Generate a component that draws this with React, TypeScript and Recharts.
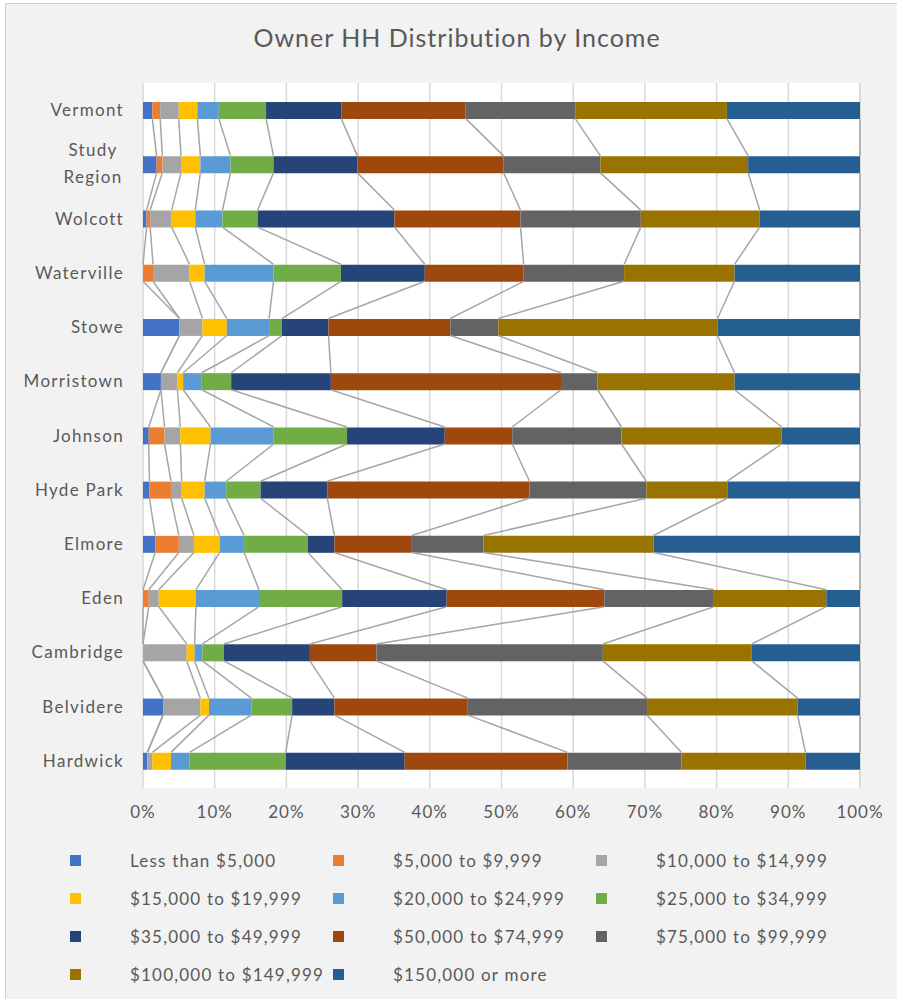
import React from "react";
import {
  ComposedChart,
  Bar,
  Line,
  XAxis,
  YAxis,
  CartesianGrid,
} from "recharts";

// categories, top to bottom
const towns = [
  "Vermont",
  "Study Region",
  "Wolcott",
  "Waterville",
  "Stowe",
  "Morristown",
  "Johnson",
  "Hyde Park",
  "Elmore",
  "Eden",
  "Cambridge",
  "Belvidere",
  "Hardwick",
];

const brackets = [
  "Less than $5,000",
  "$5,000 to $9,999",
  "$10,000 to $14,999",
  "$15,000 to $19,999",
  "$20,000 to $24,999",
  "$25,000 to $34,999",
  "$35,000 to $49,999",
  "$50,000 to $74,999",
  "$75,000 to $99,999",
  "$100,000 to $149,999",
  "$150,000 or more",
];

const colors = [
  "#4472C4",
  "#ED7D31",
  "#A5A5A5",
  "#FFC000",
  "#5B9BD5",
  "#70AD47",
  "#264478",
  "#9E480E",
  "#636363",
  "#997300",
  "#255E91",
];

// share of owner households per bracket (%), one row per town
const vermont = [1.3, 1.1, 2.6, 2.6, 3.0, 6.6, 10.5, 17.4, 15.3, 21.2, 18.6];
const studyRegion = [1.9, 0.8, 2.6, 2.7, 4.2, 6.0, 11.7, 20.4, 13.5, 20.6, 15.6];
const wolcott = [0.5, 0.5, 3.0, 3.3, 3.8, 4.9, 19.1, 17.6, 16.8, 16.6, 14.0];
const waterville = [0, 1.4, 5.1, 2.1, 9.6, 9.4, 11.7, 13.8, 14.0, 15.4, 17.5];
const stowe = [5.1, 0, 3.2, 3.4, 5.9, 1.8, 6.5, 17.0, 6.7, 30.6, 19.9];
const morristown = [2.5, 0, 2.3, 0.8, 2.6, 4.1, 13.9, 32.1, 5.1, 19.1, 17.5];
const johnson = [0.8, 2.2, 2.2, 4.2, 8.8, 10.2, 13.6, 9.4, 15.2, 22.3, 10.9];
const hydePark = [0.9, 3.0, 1.5, 3.2, 3.0, 4.8, 9.3, 28.2, 16.3, 11.3, 18.5];
const elmore = [1.7, 3.3, 2.1, 3.6, 3.4, 8.9, 3.7, 10.8, 10.0, 23.7, 28.8];
const eden = [0, 0.8, 1.4, 5.2, 8.8, 11.6, 14.6, 22.0, 15.3, 15.7, 4.7];
const cambridge = [0, 0, 6.1, 1.1, 1.1, 3.0, 12.0, 9.3, 31.6, 20.8, 15.1];
const belvidere = [2.8, 0, 5.2, 1.2, 5.9, 5.7, 5.9, 18.6, 25.0, 21.0, 8.7];
const hardwick = [0.6, 0, 0.7, 2.6, 2.6, 13.4, 16.6, 22.7, 15.9, 17.3, 7.6];

const xTicks = [0, 10, 20, 30, 40, 50, 60, 70, 80, 90, 100];

const rows = [
  vermont,
  studyRegion,
  wolcott,
  waterville,
  stowe,
  morristown,
  johnson,
  hydePark,
  elmore,
  eden,
  cambridge,
  belvidere,
  hardwick,
];

const BAR_SIZE = 17;
const FONT = "Lato, 'Open Sans', sans-serif";
const TEXT = "#595959";

// normalise each town to 100% and add the running totals for the series lines
const data = towns.map((name, i) => {
  const vals = rows[i];
  const total = vals.reduce((a, b) => a + b, 0);
  const row: any = { name };
  let cum = 0;
  vals.forEach((v, k) => {
    const pct = (v / total) * 100;
    cum += pct;
    row[`s${k}`] = pct;
    row[`c${k}`] = cum;
  });
  return row;
});

// Excel-style series line: from bottom edge of this bar to top edge of the next
const SeriesLine = (props: any) => {
  const { index, points, cx, cy } = props;
  if (!points || index >= points.length - 1) return <g key={`sl-${index}`} />;
  const next = points[index + 1];
  return (
    <line
      key={`sl-${index}`}
      x1={cx}
      y1={cy + BAR_SIZE / 2}
      x2={next.x}
      y2={next.y - BAR_SIZE / 2}
      stroke="#a6a6a6"
      strokeWidth={1.5}
    />
  );
};

const TownTick = ({ x, y, payload }: any) => {
  const label: string = payload.value;
  const common = { fill: TEXT, fontSize: 17, fontFamily: FONT, letterSpacing: 1.3 };
  if (label === "Study Region") {
    return (
      <text x={x - 31} y={y} textAnchor="middle" {...common}>
        <tspan x={x - 31} dy={-8}>Study</tspan>
        <tspan x={x - 31} dy={27}>Region</tspan>
      </text>
    );
  }
  return (
    <text x={x} y={y} dy={6} textAnchor="end" {...common}>
      {label}
    </text>
  );
};

export default function App() {
  return (
    <div style={{ position: "absolute", left: 0, top: 0, width: 897, height: 999, background: "#fff", overflow: "hidden" }}>
      <div
        style={{
          position: "absolute",
          left: 5,
          top: 3,
          width: 892,
          height: 996,
          background: "#f2f2f2",
          borderLeft: "1px solid #d0d0d0",
          borderTop: "1px solid #d0d0d0",
        }}
      />
      <div
        style={{
          position: "absolute",
          left: 0,
          top: 22,
          width: 914,
          textAlign: "center",
          fontFamily: FONT,
          fontSize: 25,
          lineHeight: "30px",
          letterSpacing: 1,
          color: TEXT,
        }}
      >
        Owner HH Distribution by Income
      </div>
      <div style={{ position: "absolute", left: 0, top: 0 }}>
        <ComposedChart
          width={897}
          height={830}
          data={data}
          layout="vertical"
          margin={{ top: 83, right: 37, bottom: 12, left: 0 }}
        >
          <CartesianGrid horizontal={false} stroke="#d9d9d9" strokeWidth={1.5} fill="#ffffff" />
          <XAxis
            type="number"
            domain={[0, 100]}
            ticks={xTicks}
            tickFormatter={(v) => `${v}%`}
            axisLine={false}
            tickLine={false}
            tickMargin={12}
            tick={{ fontSize: 17, fill: TEXT, fontFamily: FONT, letterSpacing: 1 }}
          />
          <YAxis
            type="category"
            dataKey="name"
            width={143}
            axisLine={false}
            tickLine={false}
            tickMargin={13}
            interval={0}
            tick={<TownTick />}
          />
          {brackets.map((b, k) => (
            <Bar
              key={b}
              dataKey={`s${k}`}
              name={b}
              stackId="a"
              fill={colors[k]}
              barSize={BAR_SIZE}
              isAnimationActive={false}
            />
          ))}
          {brackets.map((b, k) => (
            <Line
              key={`line-${b}`}
              dataKey={`c${k}`}
              stroke="none"
              dot={<SeriesLine />}
              activeDot={false}
              legendType="none"
              isAnimationActive={false}
            />
          ))}
        </ComposedChart>
      </div>
      {brackets.map((b, k) => {
        const col = k % 3;
        const row = Math.floor(k / 3);
        return (
          <div
            key={b}
            style={{
              position: "absolute",
              left: 70 + col * 263,
              top: 849 + row * 38,
              height: 22,
              display: "flex",
              alignItems: "center",
              fontFamily: FONT,
              fontSize: 17,
              letterSpacing: 1.2,
              color: TEXT,
              whiteSpace: "nowrap",
            }}
          >
            <span style={{ display: "inline-block", width: 11, height: 11, background: colors[k], marginRight: 49 }} />
            {b}
          </div>
        );
      })}
    </div>
  );
}
